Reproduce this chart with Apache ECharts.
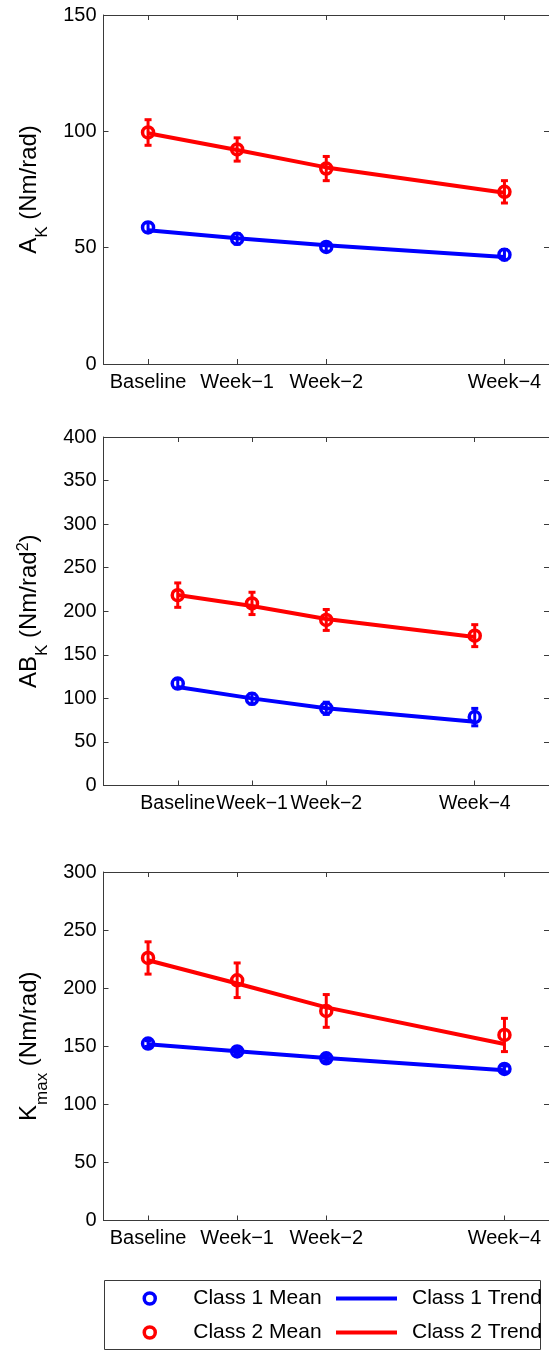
<!DOCTYPE html>
<html><head><meta charset="utf-8">
<script src="https://cdn.jsdelivr.net/npm/echarts@6/dist/echarts.min.js"></script>
<style>html,body{margin:0;padding:0;background:#fff}#c{width:549px;height:1351px}</style>
</head><body><div id="c"></div>
<script>
// ---------- data ----------
const weeks = [0, 1, 2, 4];
const weekLabels = ['Baseline', 'Week\u22121', 'Week\u22122', 'Week\u22124'];

// Panel 1: A_K (Nm/rad)
const akClass1Mean  = [58.7, 53.8, 50.3, 47.0];
const akClass1Err   = [2.0, 2.3, 1.8, 2.2];
const akClass2Mean  = [99.5, 92.2, 84.0, 74.0];
const akClass2Err   = [5.5, 5.0, 5.2, 4.8];
const akClass1Trend = [57.5, 54.0, 51.0, 46.0];
const akClass2Trend = [99.2, 92.0, 84.5, 73.6];

// Panel 2: AB_K (Nm/rad^2)
const abClass1Mean  = [117.0, 99.5, 88.6, 78.5];
const abClass1Err   = [5.0, 6.0, 7.0, 10.0];
const abClass2Mean  = [218.5, 209.0, 190.0, 172.0];
const abClass2Err   = [14.0, 12.8, 12.0, 12.6];
const abClass1Trend = [113.0, 100.0, 88.6, 73.2];
const abClass2Trend = [218.6, 206.0, 191.0, 170.5];

// Panel 3: K_max (Nm/rad)
const kmClass1Mean  = [152.3, 145.5, 139.6, 130.5];
const kmClass1Err   = [2.5, 2.5, 2.5, 2.5];
const kmClass2Mean  = [226.0, 206.8, 180.4, 159.7];
const kmClass2Err   = [13.9, 14.9, 14.1, 14.3];
const kmClass1Trend = [151.7, 145.7, 139.9, 129.3];
const kmClass2Trend = [224.0, 204.0, 183.5, 152.0];

const yMaxes = [150, 400, 300];
const yInterval = 50;

// ---------- styling / layout ----------
const FONT = "'Liberation Sans', Arial, Helvetica, sans-serif";
const BLUE = '#0000ff', RED = '#ff0000', AXIS = '#3a3a3a';
const grids = [
  { left: 101.7, top: 15,  width: 450, height: 349 },
  { left: 101.7, top: 437, width: 450, height: 348.5 },
  { left: 101.7, top: 872, width: 450, height: 348.5 }
];
const xRanges = [[-0.5, 4.5], [-1, 5], [-0.5, 4.5]];
const xLabelSizes = [20, 19.5, 20];
const richName = {
  n: { fontSize: 24, lineHeight: 24, fontFamily: FONT, color: '#000' },
  s: { fontSize: 17, lineHeight: 24, padding: [26, 0, 0, 0], fontFamily: FONT, color: '#000' },
  p: { fontSize: 16, lineHeight: 24, padding: [0, 0, 12, 0], fontFamily: FONT, color: '#000' }
};
const yNames = [
  '{n|A}{s|K}{n| (Nm/rad)}',
  '{n|AB}{s|K}{n| (Nm/rad}{p|2}{n|)}',
  '{n|K}{s|max}{n| (Nm/rad)}'
];

const xAxes = [], yAxes = [];
grids.forEach((g, i) => {
  const common = {
    type: 'value', gridIndex: i, min: xRanges[i][0], max: xRanges[i][1],
    axisLine: { show: true, onZero: false, lineStyle: { color: AXIS, width: 1 } },
    axisTick: { show: true, inside: true, length: 5, customValues: weeks, lineStyle: { color: AXIS } },
    splitLine: { show: false }
  };
  xAxes.push(Object.assign({}, common, {
    position: 'bottom',
    axisLabel: {
      show: true, customValues: weeks, hideOverlap: false, showMinLabel: true, showMaxLabel: true,
      margin: 8, fontSize: xLabelSizes[i], fontFamily: FONT, color: '#000',
      formatter: v => weekLabels[weeks.indexOf(v)] || ''
    }
  }));
  xAxes.push(Object.assign({}, common, { position: 'top', axisLabel: { show: false } }));
  const ycommon = {
    type: 'value', gridIndex: i, min: 0, max: yMaxes[i], interval: yInterval,
    axisLine: { show: true, onZero: false, lineStyle: { color: AXIS, width: 1 } },
    axisTick: { show: true, inside: true, length: 5, lineStyle: { color: AXIS } },
    splitLine: { show: false }
  };
  yAxes.push(Object.assign({}, ycommon, {
    position: 'left',
    axisLabel: { show: true, margin: 7, fontSize: 20, fontFamily: FONT, color: '#000', showMinLabel: true, showMaxLabel: true },
    name: yNames[i], nameLocation: 'middle', nameGap: 62, nameRotate: 90,
    nameTextStyle: { fontSize: 24, rich: richName }
  }));
  yAxes.push(Object.assign({}, ycommon, { position: 'right', axisLabel: { show: false } }));
});

function pairs(vals) { return weeks.map((w, i) => [w, vals[i]]); }

function trendSeries(name, color, vals, gi) {
  return { type: 'line', name, xAxisIndex: 2 * gi, yAxisIndex: 2 * gi, data: pairs(vals),
    symbol: 'none', lineStyle: { color, width: 4 }, itemStyle: { color }, z: 2, silent: true, animation: false };
}
function meanSeries(name, color, vals, gi) {
  return { type: 'scatter', name, xAxisIndex: 2 * gi, yAxisIndex: 2 * gi, data: pairs(vals),
    symbol: 'circle', symbolSize: 11,
    itemStyle: { color: 'rgba(0,0,0,0)', borderColor: color, borderWidth: 3.5, opacity: 1 },
    z: 4, silent: true, animation: false };
}
function errSeries(name, color, means, errs, gi) {
  return { type: 'custom', name, xAxisIndex: 2 * gi, yAxisIndex: 2 * gi, z: 3, silent: true, animation: false,
    data: weeks.map((w, i) => [w, means[i] - errs[i], means[i] + errs[i]]),
    encode: { x: 0, y: [1, 2] },
    renderItem(params, api) {
      const x = api.value(0);
      const p1 = api.coord([x, api.value(2)]);
      const p2 = api.coord([x, api.value(1)]);
      const c = 3.5;
      const st = { stroke: color, lineWidth: 3 };
      return { type: 'group', children: [
        { type: 'line', shape: { x1: p1[0], y1: p1[1], x2: p2[0], y2: p2[1] }, style: st },
        { type: 'line', shape: { x1: p1[0] - c, y1: p1[1], x2: p1[0] + c, y2: p1[1] }, style: st },
        { type: 'line', shape: { x1: p2[0] - c, y1: p2[1], x2: p2[0] + c, y2: p2[1] }, style: st }
      ] };
    } };
}

const panels = [
  [akClass1Mean, akClass1Err, akClass2Mean, akClass2Err, akClass1Trend, akClass2Trend],
  [abClass1Mean, abClass1Err, abClass2Mean, abClass2Err, abClass1Trend, abClass2Trend],
  [kmClass1Mean, kmClass1Err, kmClass2Mean, kmClass2Err, kmClass1Trend, kmClass2Trend]
];
const series = [];
panels.forEach((p, gi) => {
  series.push(trendSeries('Class 1 Trend', BLUE, p[4], gi));
  series.push(trendSeries('Class 2 Trend', RED, p[5], gi));
  series.push(errSeries('Class 1 Error', BLUE, p[0], p[1], gi));
  series.push(errSeries('Class 2 Error', RED, p[2], p[3], gi));
  series.push(meanSeries('Class 1 Mean', BLUE, p[0], gi));
  series.push(meanSeries('Class 2 Mean', RED, p[2], gi));
});

const LINE_ICON = 'path://M0,0H60V4H0Z';
function legendCol(left, kind) {
  const isMean = kind === 'Mean';
  return {
    top: 1288, left, padding: 0, orient: 'vertical', itemWidth: 61, itemHeight: 11, itemGap: 13,
    selectedMode: false,
    textStyle: { fontSize: 21, fontFamily: FONT, color: '#000', padding: [0, 0, 0, isMean ? 8 : 10] },
    data: [[1, BLUE], [2, RED]].map(([cls, color]) => isMean
      ? { name: 'Class ' + cls + ' Mean', icon: 'circle', itemStyle: { color: '#fff', borderColor: color, borderWidth: 3.5 } }
      : { name: 'Class ' + cls + ' Trend', icon: LINE_ICON, itemStyle: { color: color, borderWidth: 0 } })
  };
}

const chart = echarts.init(document.getElementById('c'), null, { renderer: 'canvas' });
chart.setOption({
  backgroundColor: '#fff',
  animation: false,
  textStyle: { fontFamily: FONT },
  grid: grids,
  xAxis: xAxes,
  yAxis: yAxes,
  legend: [legendCol(142.5, 'Mean'), legendCol(336, 'Trend')],
  graphic: [{
    type: 'rect', silent: true, z: -1,
    shape: { x: 104.5, y: 1280.5, width: 436, height: 69 },
    style: { fill: '#fff', stroke: AXIS, lineWidth: 1 }
  }],
  series
});
</script></body></html>
